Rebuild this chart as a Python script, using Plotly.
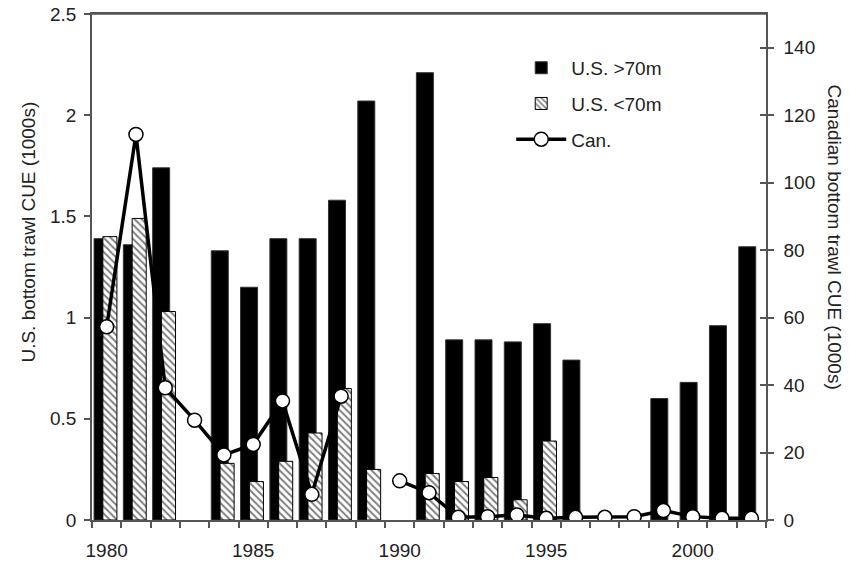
import plotly.graph_objects as go

years = list(range(1980, 2003))
us_deep = [1.39, 1.36, 1.74, None, 1.33, 1.15, 1.39, 1.39, 1.58, 2.07, None, 2.21,
           0.89, 0.89, 0.88, 0.97, 0.79, None, None, 0.60, 0.68, 0.96, 1.35]
us_shallow = [1.40, 1.49, 1.03, None, 0.28, 0.19, 0.29, 0.43, 0.65, 0.25, None, 0.23,
              0.19, 0.21, 0.10, 0.39, None, None, None, None, None, None, None]
canada = [57.3, 114.3, 39.2, 29.6, 19.3, 22.4, 35.3, 7.6, 36.7, None, 11.6, 8.1,
          0.8, 1.0, 1.5, 0.5, 0.8, 0.8, 1.0, 2.8, 1.0, 0.5, 0.5]
x_labels = [1980, 1985, 1990, 1995, 2000]
left_title = "U.S. bottom trawl CUE (1000s)"
right_title = "Canadian bottom trawl CUE (1000s)"

FONT = "Liberation Sans, Arial, sans-serif"
TXT = "#222"
AX = "#555"
FS = 19

fig = go.Figure()
fig.add_trace(go.Bar(
    x=years, y=us_deep, name="U.S. >70m", offset=-0.43, width=0.58,
    marker=dict(color="black", line=dict(color="#333", width=1)),
    legendgroup="a"))
fig.add_trace(go.Bar(
    x=years, y=us_shallow, name="U.S. <70m", offset=-0.13, width=0.48,
    marker=dict(color="white", line=dict(color="black", width=1),
                pattern=dict(shape="\\", fgcolor="black", bgcolor="white",
                             size=5, solidity=0.4)),
    legendgroup="b"))
fig.add_trace(go.Scatter(
    x=years, y=canada, name="Can.", yaxis="y2", mode="lines+markers",
    connectgaps=False,
    line=dict(color="black", width=3.5),
    marker=dict(symbol="circle", size=14, color="white",
                line=dict(color="black", width=1.5)),
    legendgroup="c"))
fig.add_trace(go.Scatter(x=[], y=[], yaxis="y3", showlegend=False, hoverinfo="skip"))

fig.update_layout(
    width=849, height=564,
    margin=dict(l=92, r=83, t=14, b=44, autoexpand=False),
    paper_bgcolor="white", plot_bgcolor="white",
    barmode="overlay",
    font=dict(family=FONT, size=FS, color=TXT),
    showlegend=True,
    legend=dict(x=0.622, y=0.931, xanchor="left", yanchor="top",
                bgcolor="rgba(0,0,0,0)", font=dict(size=FS, color=TXT),
                traceorder="grouped", tracegroupgap=8, itemwidth=50),
    xaxis=dict(range=[1979.5, 2002.5], tickmode="array", tickvals=x_labels,
               ticks="", showline=True, linecolor=AX, linewidth=1.5, mirror=True,
               showgrid=False, zeroline=False, ticklabelstandoff=12, automargin=False,
               ticklabeloverflow="allow",
               tickfont=dict(size=FS, color=TXT),
               minor=dict(tickmode="array", tickvals=[y - 0.5 for y in years] + [2002.5],
                          ticks="outside", ticklen=6, tickcolor=AX, tickwidth=1.5,
                          showgrid=False)),
    yaxis=dict(range=[0, 2.5], dtick=0.5, tick0=0, ticks="outside", ticklen=6,
               tickcolor=AX, tickwidth=1.5, showline=True, linecolor=AX, linewidth=1.5,
               showgrid=False, zeroline=False, tickfont=dict(size=FS, color=TXT),
               ticklabelstandoff=4, automargin=False, ticklabeloverflow="allow"),
    yaxis2=dict(range=[0, 150], dtick=20, tick0=0, overlaying="y", side="right",
                ticks="outside", ticklen=6, tickcolor=AX, tickwidth=1.5,
                showline=True, linecolor=AX, linewidth=1.5, showgrid=False,
                zeroline=False, tickfont=dict(size=FS, color=TXT), ticklabelstandoff=6,
                automargin=False, ticklabeloverflow="allow"),
    yaxis3=dict(range=[0, 150], dtick=20, tick0=0, overlaying="y", side="right",
                ticks="inside", ticklen=6, tickcolor=AX, tickwidth=1.5,
                showticklabels=False, showline=False, showgrid=False, zeroline=False,
                automargin=False),
    shapes=[dict(type="line", xref="paper", yref="paper", x0=0, x1=1, y0=1, y1=1,
                 line=dict(color=AX, width=1.5), layer="above")],
    annotations=[
        dict(text=left_title, xref="paper", yref="paper", x=-0.0935, y=0.57,
             textangle=-90, showarrow=False, font=dict(size=FS, color=TXT),
             xanchor="center", yanchor="middle"),
        dict(text=right_title, xref="paper", yref="paper", x=1.101, y=0.56,
             textangle=90, showarrow=False, font=dict(size=FS, color=TXT),
             xanchor="center", yanchor="middle"),
    ],
)

# remove the browser's default 8px body margin so the figure sits at the window's corner
fig.write_html("out.html",
               config={"displayModeBar": False},
               post_script="document.body.style.margin='0';document.body.style.overflow='hidden';")
